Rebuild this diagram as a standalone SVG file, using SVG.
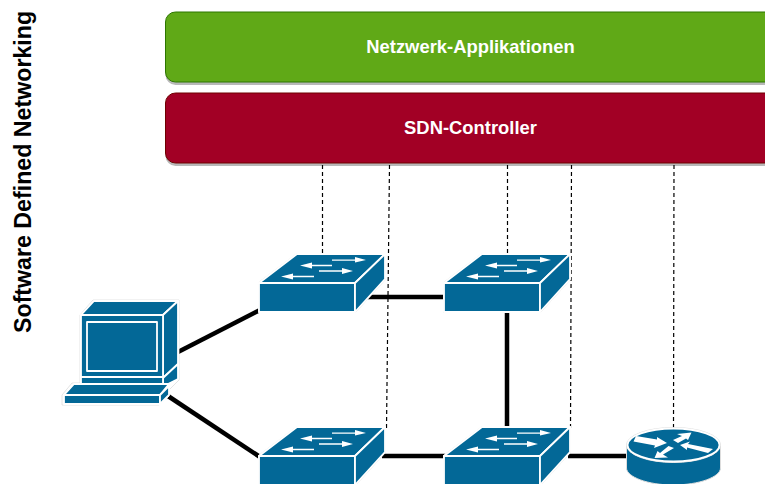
<svg xmlns="http://www.w3.org/2000/svg" width="765" height="484" viewBox="0 0 765 484">
<style>
text{font-family:"Liberation Sans",Arial,sans-serif;font-weight:bold}
.lbl{font-size:18.400px;fill:#fff;text-anchor:middle}
.link{stroke:#000;stroke-width:4.500;fill:none}
.dash{stroke:#000;stroke-width:1.200;stroke-dasharray:4 3;fill:none}
.dev{fill:#036897;stroke:#fff;stroke-width:1.800;stroke-linejoin:round}
.halo{fill:#fff;stroke:#ddd;stroke-width:.8;stroke-linejoin:round}
.shadow{fill:#000;opacity:.28}
.wa{fill:#fff}
</style>
<defs>
<g id="sw">
<path class="halo" d="M-.5 28.500L38 -.5H126.500V25.500L96.500 58.500H-.5Z"/>
<path class="dev" d="M0 29H96V58H0Z"/>
<path class="dev" d="M0 29L38 0H126L96 29Z"/>
<path class="dev" d="M96 29L126 0V25L96 58Z"/>
<path class="wa" d="M73 5.400H96V3L107 6L96 8.500V6.800H73Z"/>
<path class="wa" d="M73 10.800H53V8.500L41 11.500L53 14.500V12.200H73Z"/>
<path class="wa" d="M60 16.300H83V14L94 17L83 20V17.700H60Z"/>
<path class="wa" d="M55 21.800H34V19.500L22 22.500L34 25.500V23.200H55Z"/>
</g>
</defs>
<text x="0" y="0" transform="translate(31,333) rotate(-90)" style="font-size:23.200px" fill="#000">Software Defined Networking</text>
<g id="connectors">
<path class="dash" d="M322.500 165V254"/>
<path class="dash" d="M389.500 165L386.500 428"/>
<path class="dash" d="M507.500 165V254"/>
<path class="dash" d="M571.500 165L570.500 428"/>
<path class="dash" d="M674 165L673.500 428"/>
<path class="link" d="M178 352L260 310"/>
<path class="link" d="M168 396L260 457"/>
<path class="link" d="M367 297H445"/>
<path class="link" d="M507 310V428"/>
<path class="link" d="M382 456H445"/>
<path class="link" d="M568 456H628"/>
</g>
<g id="apps">
<rect class="shadow" x="165.500" y="15" width="620" height="70" rx="10"/>
<rect x="165.500" y="12" width="620" height="70" rx="10" fill="#60a917" stroke="#2d7600"/>
<text class="lbl" x="470.500" y="53">Netzwerk-Applikationen</text>
</g>
<g id="controller">
<rect class="shadow" x="165.500" y="96" width="620" height="70" rx="10"/>
<rect x="165.500" y="93" width="620" height="70" rx="10" fill="#a20025" stroke="#6f0000"/>
<text class="lbl" x="470.500" y="134">SDN-Controller</text>
</g>
<g id="switch1"><use href="#sw" x="259" y="254"/></g>
<g id="switch2"><use href="#sw" x="444" y="254"/></g>
<g id="switch3"><use href="#sw" x="259" y="427"/></g>
<g id="switch4"><use href="#sw" x="444" y="427"/></g>
<g id="pc">
<path class="halo" d="M80 315L93 300H179V380L169 390V396L159 405H62V395L72 383H80Z"/>
<path class="dev" d="M81 315L94 301H178L163 315Z"/>
<path class="dev" d="M163 315L178 301V364L163 378Z"/>
<path class="dev" d="M163 378L178 364V379L166 385H163Z"/>
<path class="dev" d="M81 315H163V377H81Z"/>
<path class="dev" d="M81 377H163V384H81Z"/>
<path class="dev" d="M87 322H157V371H87Z"/>
<path class="dev" d="M64 395L74 384H169L160 395Z"/>
<path class="dev" d="M64 395H160V404H64Z"/>
<path class="dev" d="M160 395L169 386V395L160 404Z"/>
</g>
<g id="router">
<path d="M626.500 445V468C626.500 477 648 485 673 485C699 485 720.500 477 720.500 468V445Z" fill="#036897" stroke="#ddd" stroke-width="1"/>
<ellipse cx="673.500" cy="445" rx="47" ry="17.500" fill="#fff" stroke="#ddd"/>
<ellipse cx="673.500" cy="445" rx="46" ry="16.500" class="dev"/>
<path class="wa" d="M636 436L633.500 441.500L655 445.500L654 448L667 443L657 437L657 439.500Z"/>
<path class="wa" d="M691.500 432.500L677 434L682 436L673 440L678 443L686 438.500L688 440Z"/>
<path class="wa" d="M713 449L708 453L687 447.500L687 450L680 445L690 441.500L688 444Z"/>
<path class="wa" d="M668.500 446L674 448L663 454.500L668 457.500L654.500 458L657.500 451L660 453Z"/>
</g>
</svg>
